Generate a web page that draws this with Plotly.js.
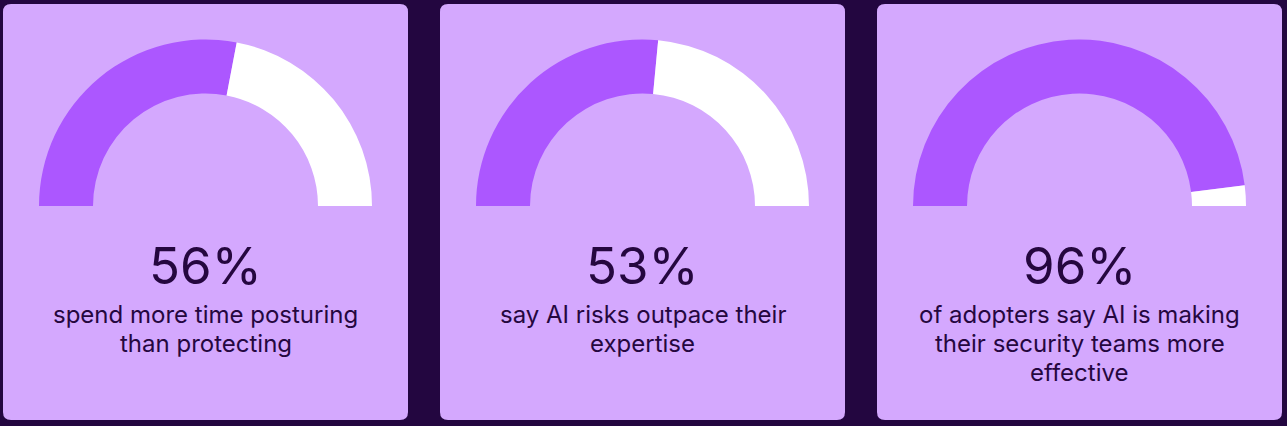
<!DOCTYPE html>
<html>
<head>
<meta charset="utf-8">
<script src="https://cdn.plot.ly/plotly-3.0.1.min.js"></script>
<style>
  html, body { margin: 0; padding: 0; background: #230640; }
  #chart { width: 1287px; height: 426px; }
</style>
</head>
<body>
<div id="chart"></div>
<script>
// ---- data ----
const percentValues = [56, 53, 96];
const percentLabels = ['56%', '53%', '96%'];
const captionLines = [
  ['spend more time posturing', 'than protecting'],
  ['say AI risks outpace their', 'expertise'],
  ['of adopters say AI is making', 'their security teams more', 'effective']
];

// ---- styling / layout ----
const W = 1287, H = 426;
const BG = '#230640';
const CARD = '#D4A8FE';
const FILL = '#AC57FF';
const REST = '#FFFFFF';
const TEXT = '#25073F';
const FONT = 'Inter, "Open Sans", sans-serif';

const cardLeft = [3, 440, 877];
const cardWidth = 405;
const cardTop = 4, cardBottom = 420, cornerR = 8;
const gaugeCY = 206, outerR = 166.5, innerR = 112.5;
const pctY = 265, captionY0 = 314, captionStep = 29;

function roundedRect(x0, y0, x1, y1, r) {
  return `M${x0 + r},${y0} H${x1 - r} Q${x1},${y0} ${x1},${y0 + r} V${y1 - r} Q${x1},${y1} ${x1 - r},${y1} H${x0 + r} Q${x0},${y1} ${x0},${y1 - r} V${y0 + r} Q${x0},${y0} ${x0 + r},${y0} Z`;
}

const traces = [];
const shapes = [];
const annotations = [];

percentValues.forEach((v, i) => {
  const x0 = cardLeft[i], x1 = x0 + cardWidth;
  const cx = (x0 + x1) / 2;
  shapes.push({
    type: 'path', xref: 'x', yref: 'y', layer: 'below',
    path: roundedRect(x0, cardTop, x1, cardBottom, cornerR),
    fillcolor: CARD, line: { width: 0 }
  });
  traces.push({
    type: 'pie',
    values: [v, 100 - v, 100],
    labels: ['a' + i, 'b' + i, 'c' + i],
    marker: { colors: [FILL, REST, 'rgba(0,0,0,0)'], line: { width: 0 } },
    hole: innerR / outerR,
    rotation: -90,
    direction: 'clockwise',
    sort: false,
    textinfo: 'none',
    hoverinfo: 'skip',
    showlegend: false,
    domain: {
      x: [(cx - outerR) / W, (cx + outerR) / W],
      y: [(H - gaugeCY - outerR) / H, (H - gaugeCY + outerR) / H]
    }
  });
  annotations.push({
    xref: 'x', yref: 'y', x: cx, y: pctY, xanchor: 'center', yanchor: 'middle',
    text: percentLabels[i], showarrow: false,
    font: { family: FONT, size: 51, color: TEXT }
  });
  captionLines[i].forEach((line, k) => {
    annotations.push({
      xref: 'x', yref: 'y', x: cx, y: captionY0 + k * captionStep,
      xanchor: 'center', yanchor: 'middle',
      text: line, showarrow: false,
      font: { family: FONT, size: 24, color: TEXT }
    });
  });
});

const layout = {
  width: W, height: H,
  margin: { l: 0, r: 0, t: 0, b: 0, pad: 0 },
  paper_bgcolor: BG, plot_bgcolor: BG,
  xaxis: { range: [0, W], visible: false, fixedrange: true },
  yaxis: { range: [H, 0], visible: false, fixedrange: true },
  shapes: shapes,
  annotations: annotations,
  showlegend: false
};

Plotly.newPlot('chart', traces, layout, { displayModeBar: false, staticPlot: true });
</script>
</body>
</html>
